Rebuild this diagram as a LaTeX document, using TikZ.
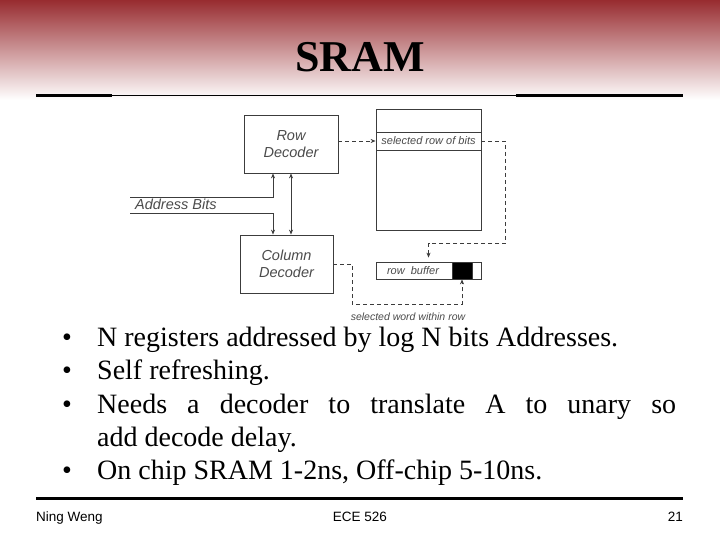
\documentclass[tikz,border=0pt]{standalone}
\usepackage{fontspec}
\setmainfont{Liberation Serif}
\setsansfont{Liberation Sans}
\usetikzlibrary{arrows.meta,calc}
\definecolor{topred}{RGB}{152,44,48}
\definecolor{dline}{RGB}{60,60,60}
\definecolor{dtext}{RGB}{75,75,75}
\begin{document}
\begin{tikzpicture}[x=1pt,y=-1pt,
  dbox/.style={draw=dline,line width=0.8pt,inner sep=0pt,align=center,
    font=\sffamily\itshape\fontsize{14.5}{17}\selectfont,text=dtext},
  smalltxt/.style={inner sep=0pt,font=\sffamily\itshape\fontsize{11}{12}\selectfont,text=dtext},
  conn/.style={draw=dline,line width=0.8pt},
  dconn/.style={draw=dline,line width=0.8pt,dash pattern=on 4pt off 3pt},
  tip/.style={-{Stealth[length=5pt,width=4pt]}},
  btxt/.style={inner sep=0pt,anchor=base west,font=\fontsize{28}{32}\selectfont},
  foot/.style={inner sep=0pt,font=\sffamily\fontsize{13.5}{15}\selectfont}]
\useasboundingbox (0,0) rectangle (720,540);
\fill[white] (0,0) rectangle (720,540);
% header gradient
\shade[top color=topred,middle color=topred!38!white,bottom color=white] (0,0) rectangle (720,100);
% title
\node[inner sep=0pt,anchor=base,font=\bfseries\fontsize{44}{44}\selectfont] (title) at (360,72) {SRAM};
% rules
\draw[line width=3pt] (36,96) -- (112,96);
\draw[line width=1pt] (112,96) -- (516,96);
\draw[line width=3pt] (516,96) -- (683,96);
\draw[line width=3pt] (36,498) -- (683,498);
% diagram
\node[dbox,minimum width=94pt,minimum height=58pt] (rd) at (291,144) {Row\\Decoder};
\node[dbox,minimum width=93pt,minimum height=58pt] (cd) at (286.5,264) {Column\\Decoder};
\node[dbox,minimum width=105pt,minimum height=121pt] (arr) at (428.5,169.5) {};
\node[dbox,minimum width=105pt,minimum height=18pt,font=\sffamily\itshape\fontsize{11}{12}\selectfont] (band) at (428.5,141) {selected row of bits};
\node[dbox,minimum width=105pt,minimum height=17pt] (rb) at (428.5,270.5) {};
\node[draw=dline,fill=black,line width=0.8pt,inner sep=0pt,minimum width=20pt,minimum height=17pt] (blk) at (462,270.5) {};
\node[smalltxt] (rbt) at (413,270.5) {row\ \ buffer};
% address bits
\coordinate (ab1) at (130,197);
\coordinate (ab2) at (130,213);
\node[inner sep=0pt,anchor=west,font=\sffamily\itshape\fontsize{14.5}{17}\selectfont,text=dtext] (abt) at (135,204) {Address Bits};
\draw[conn,tip] (ab1) -| ([xshift=-18pt]rd.south);
\draw[conn,tip] (ab2) -| ([xshift=-18pt]rd.south |- cd.north);
\draw[conn,{Stealth[length=5pt,width=4pt]}-{Stealth[length=5pt,width=4pt]}] (rd.south) -- (rd.south |- cd.north);
% dashed connections
\draw[dconn,tip] (rd.east |- band.west) -- (band.west);
\draw[dconn,tip,shorten >=4pt] (band.east) -- ++(24,0) |- ($(rb.north)+(0,-18)$) -- (rb.north);
\draw[dconn,tip] (cd.east) -- ++(19,0) |- ($(blk.south)+(0,25)$) -- (blk.south);
\node[smalltxt,font=\sffamily\itshape\fontsize{10.5}{12}\selectfont] (swr) at (408,317) {selected word within row};
% bullets
\node[btxt] (d1) at (62,346) {•};
\node[btxt] (t1) at (97,346) {N registers addressed by log N bits Addresses.};
\node[btxt] (d2) at (62,379) {•};
\node[btxt] (t2) at (97,379) {Self refreshing.};
\node[btxt] (d3) at (62,413) {•};
\node[btxt] (t3) at (97,413) {\makebox[579pt][s]{Needs a decoder to translate A to unary so}};
\node[btxt] (t3b) at (97,446) {add decode delay.};
\node[btxt] (d4) at (62,479) {•};
\node[btxt] (t4) at (97,479) {On chip SRAM 1-2ns, Off-chip 5-10ns.};
% footer
\node[foot,anchor=base west] (f1) at (36,521) {Ning Weng};
\node[foot,anchor=base] (f2) at (360,521) {ECE 526};
\node[foot,anchor=base east] (f3) at (683,521) {21};
\end{tikzpicture}
\end{document}
